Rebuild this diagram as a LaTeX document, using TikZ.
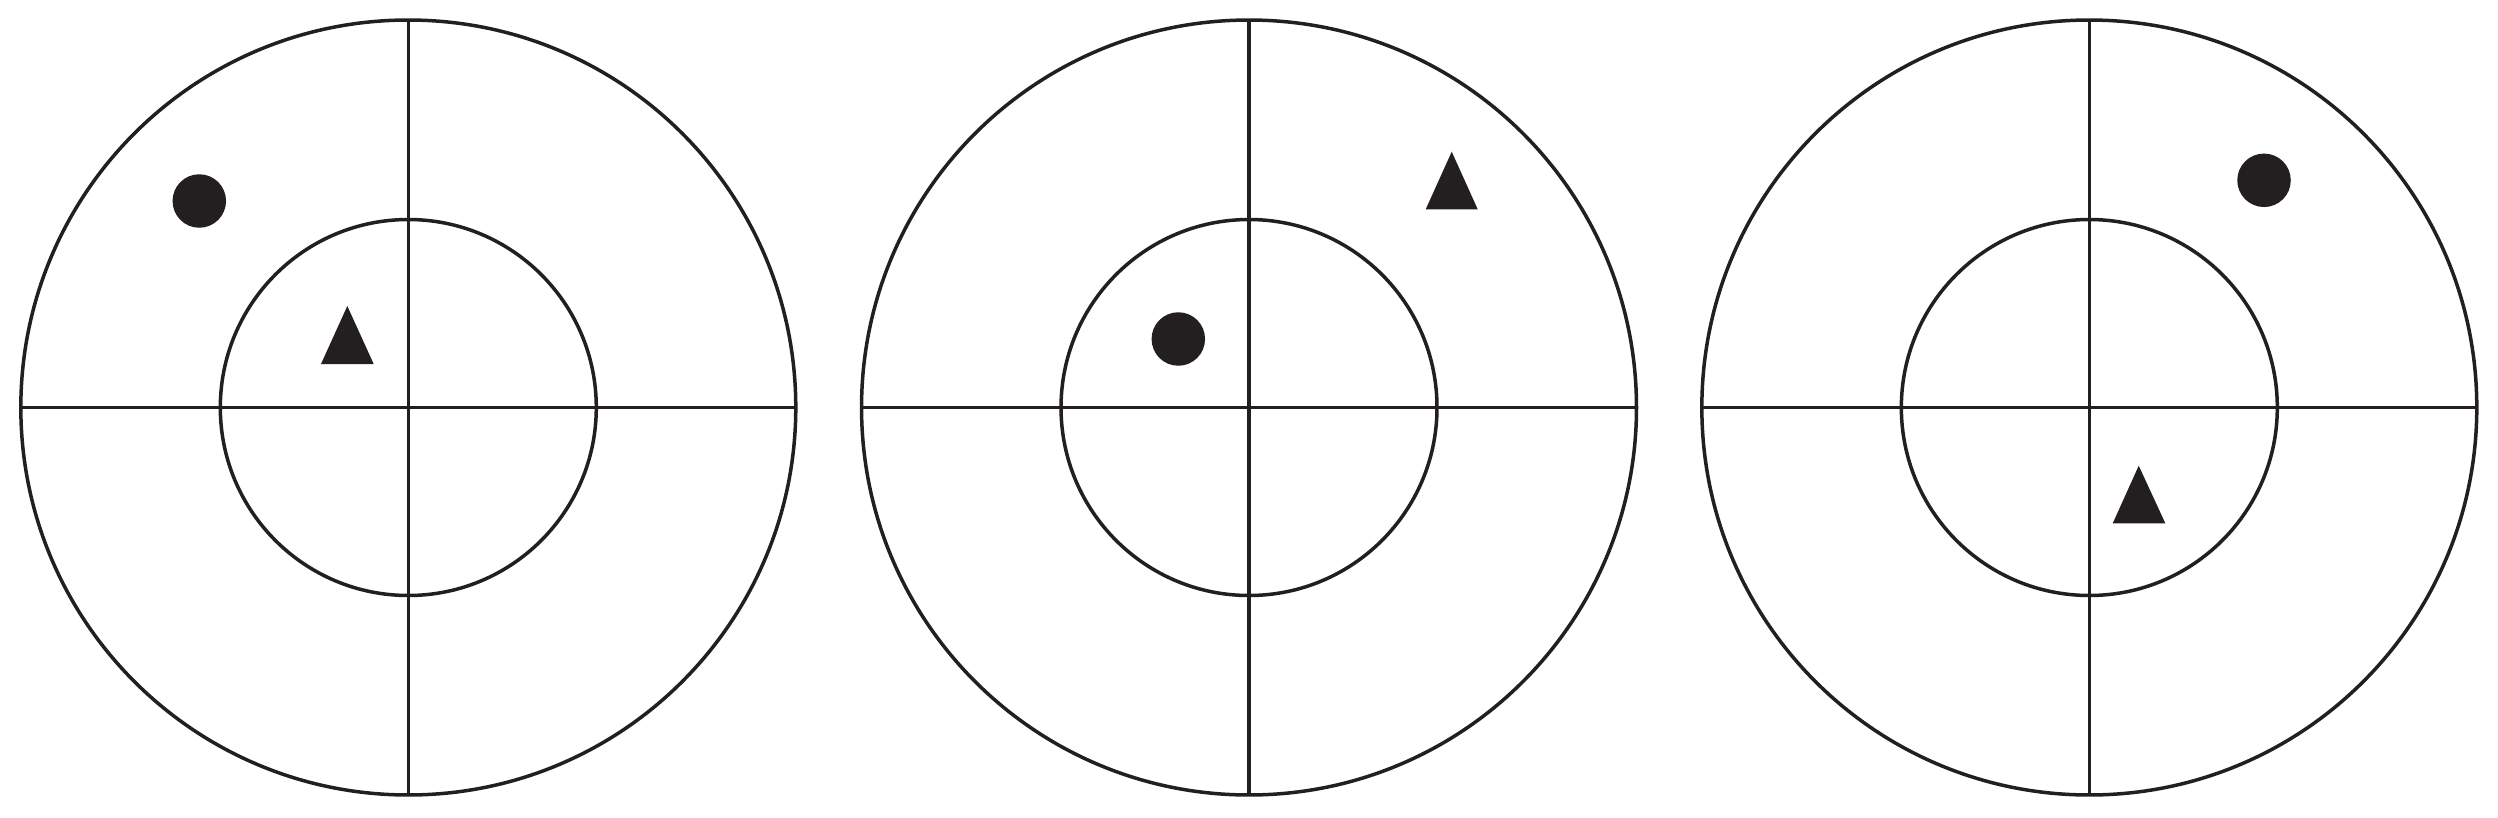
\documentclass[tikz,border=0pt]{standalone}
\definecolor{ink}{RGB}{35,31,32}
\begin{document}
\begin{tikzpicture}[x=0.1pt,y=-0.1pt,
  ring/.style={circle,draw=ink,line width=0.35pt,inner sep=0pt,outer sep=0pt},
  outerring/.style={ring,minimum size=77.5pt},
  innerring/.style={ring,minimum size=37.6pt},
  cross/.style={draw=ink,line width=0.35pt},
  dot/.style={circle,fill=ink,inner sep=0pt,outer sep=0pt,minimum size=5.35pt},
  tri/.style={fill=ink}]
\useasboundingbox (0,0) rectangle (2498,817);
\foreach \i/\cx in {1/408.3,2/1249,3/2089.3}{
  \node[outerring] (o\i) at (\cx,407.5) {};
  \node[innerring] (n\i) at (\cx,407.5) {};
  \draw[cross] (o\i.west) -- (o\i.east);
  \draw[cross] (o\i.north) -- (o\i.south);
}
\node[dot] (d1) at (199.3,201) {};
\node[dot] (d2) at (1178.3,339) {};
\node[dot] (d3) at (2264,180.3) {};
\fill[tri] (347.3,306) -- (373.7,364) -- (321,364) -- cycle;
\fill[tri] (1451.7,151.7) -- (1477.7,209.3) -- (1425.7,209.3) -- cycle;
\fill[tri] (2138.7,465.7) -- (2165.3,523.3) -- (2112.7,523.3) -- cycle;
\end{tikzpicture}
\end{document}
